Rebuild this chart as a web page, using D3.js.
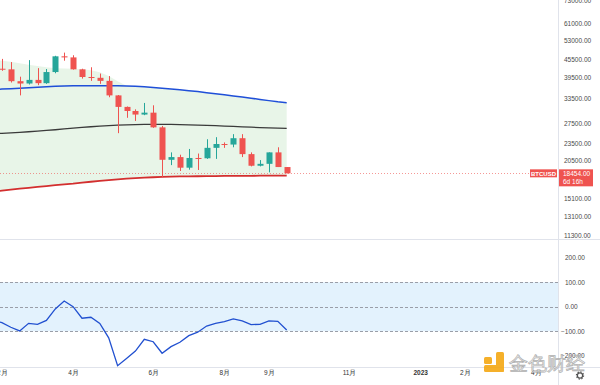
<!DOCTYPE html>
<html lang="zh">
<head>
<meta charset="UTF-8">
<title>BTCUSD 周线</title>
<script src="https://cdn.jsdelivr.net/npm/d3@7"></script>
<style>
  body { margin: 0; background: #fff; }
  text { font-family: "Liberation Sans", Arial, sans-serif; }
</style>
</head>
<body>
<div id="chart"></div>
<script>
// weekly bars, first one is the week of 2022-01-31 (just off the left edge)
const firstWeek = "2022-01-31";

const open  = [37900, 42400, 42200, 38400, 37700, 38800, 37800, 41300, 46800, 46400, 42200, 39700, 39450, 38500, 34300, 31300, 30300, 29450, 29900, 26600, 20550, 21000, 19300, 20850, 20800, 22600, 23300, 23200, 24400, 21500, 19600, 19900, 21800, 19400];
const high  = [44500, 45850, 44700, 39800, 45400, 42600, 42300, 47000, 48200, 47200, 42400, 42900, 40800, 40000, 34400, 31400, 30700, 32300, 31700, 26900, 21800, 21400, 22400, 21600, 24200, 24600, 23600, 25200, 25200, 21800, 20500, 21800, 22700, 19400];
const low   = [36300, 41700, 38000, 34300, 37400, 37200, 37600, 40900, 45200, 42100, 39200, 38500, 37600, 33800, 25400, 28700, 28000, 29300, 26500, 17900, 19700, 18800, 19000, 18950, 20700, 20700, 22600, 22700, 21000, 19500, 19500, 18600, 19400, 18454];
const close = [42400, 42200, 38400, 37700, 38800, 37800, 41300, 46800, 46400, 42200, 39700, 39450, 38500, 34300, 31300, 30300, 29450, 29900, 26600, 20550, 21000, 19300, 20850, 20800, 22600, 23300, 23200, 24400, 21500, 19600, 19900, 21800, 19400, 18454];

// moving averages drawn on the price pane
const maBlue  = [35900, 36080, 36170, 36290, 36430, 36580, 36720, 36870, 36950, 37000, 37040, 37040, 37040, 37040, 37000, 36950, 36870, 36720, 36520, 36320, 36080, 35860, 35600, 35370, 35060, 34760, 34460, 34150, 33860, 33540, 33220, 32900, 32590, 32360];
const maBlack = [25220, 25370, 25470, 25570, 25690, 25810, 25960, 26100, 26270, 26440, 26590, 26730, 26860, 26970, 27060, 27120, 27180, 27230, 27250, 27250, 27230, 27180, 27140, 27080, 27010, 26950, 26880, 26800, 26710, 26630, 26540, 26480, 26420, 26380];
const maRed   = [15960, 16090, 16210, 16330, 16440, 16560, 16670, 16790, 16910, 17010, 17140, 17260, 17370, 17480, 17580, 17680, 17760, 17830, 17890, 17930, 17980, 18000, 18020, 18030, 18050, 18060, 18080, 18080, 18090, 18090, 18110, 18110, 18110, 18120];
// upper edge of the green shaded band
const bandTop = [45500, 45200, 44800, 44300, 43800, 43300, 42900, 42600, 42500, 42400, 42200, 41900, 41200, 40000, 38400, 37000, 36870, 36720, 36520, 36320, 36080, 35860, 35600, 35370, 35060, 34760, 34460, 34150, 33860, 33540, 33220, 32900, 32590, 32360];

// oscillator in the lower pane
const cci = [-55, -65, -84, -99, -68, -72, -56, -9, 23, 0, -47, -43, -68, -127, -241, -211, -181, -133, -143, -190, -163, -145, -118, -104, -79, -68, -61, -50, -58, -73, -72, -58, -60, -95];

const priceTicks = [73000, 61000, 53000, 45500, 39500, 33500, 27500, 23500, 20500, 15100, 13100, 11300];
const cciTicks = [200, 100, 0, -100, -200];
const timeLabels = [
  ["2022-02-07", "2月"], ["2022-04-04", "4月"], ["2022-06-06", "6月"],
  ["2022-08-01", "8月"], ["2022-09-05", "9月"], ["2022-11-07", "11月"],
  ["2023-01-02", "2023"], ["2023-02-06", "2月"], ["2023-04-03", "4月"]
];
const lastPrice = 18454;
const symbol = "BTCUSD";
const countdown = "6d 16h";

const W = 600, H = 385;
const plotW = 558;
const green = "#26a69a", red = "#ef5350";

const parse = d3.utcParse("%Y-%m-%d");
const dates = close.map((d, i) => d3.utcMonday.offset(parse(firstWeek), i));
const bars = dates.map((d, i) => ({date: d, o: open[i], h: high[i], l: low[i], c: close[i]}));

const svg = d3.select("#chart").append("svg")
  .attr("width", W).attr("height", H)
  .style("display", "block");

svg.append("rect").attr("width", W).attr("height", H).attr("fill", "#fff");

const x = d3.scaleUtc()
  .domain([parse("2022-02-07"), parse("2023-04-03")])
  .range([1.9, 535.9]);

const y = d3.scaleLog().domain([11300, 61000]).range([235, 23]);
const yc = d3.scaleLinear().domain([-200, 200]).range([355.7, 257.7]);

svg.append("clipPath").attr("id", "clipTop").append("rect")
  .attr("width", plotW).attr("height", 239);
svg.append("clipPath").attr("id", "clipBot").append("rect")
  .attr("y", 240).attr("width", plotW).attr("height", 127);

const pricePane = svg.append("g").attr("clip-path", "url(#clipTop)");

// green band
pricePane.append("path")
  .datum(dates.map((d, i) => [d, bandTop[i], maRed[i]]))
  .attr("fill", "rgba(76,175,80,0.13)")
  .attr("d", d3.area().x(d => x(d[0])).y0(d => y(d[2])).y1(d => y(d[1])));

// current price line
pricePane.append("line")
  .attr("x1", 0).attr("x2", plotW)
  .attr("y1", Math.round(y(lastPrice)) + 0.5).attr("y2", Math.round(y(lastPrice)) + 0.5)
  .attr("stroke", red).attr("stroke-opacity", 0.6)
  .attr("stroke-dasharray", "1,2");

const lineFn = d3.line().x(d => x(d[0])).y(d => y(d[1]));
[[maBlue, "#1f4fd8", 1.5], [maBlack, "#3a3a3a", 1.3], [maRed, "#d32f2f", 1.8]].forEach(([arr, col, w]) => {
  pricePane.append("path")
    .datum(dates.map((d, i) => [d, arr[i]]))
    .attr("fill", "none").attr("stroke", col).attr("stroke-width", w)
    .attr("d", lineFn);
});

// candles
const candle = pricePane.selectAll("g.candle").data(bars).enter().append("g").attr("class", "candle");
candle.append("line")
  .attr("x1", d => Math.round(x(d.date)) + 0.5).attr("x2", d => Math.round(x(d.date)) + 0.5)
  .attr("y1", d => y(d.h)).attr("y2", d => y(d.l))
  .attr("stroke", d => d.c >= d.o ? green : red);
candle.append("rect")
  .attr("x", d => Math.round(x(d.date)) - 2.5)
  .attr("width", 6)
  .attr("y", d => y(Math.max(d.o, d.c)))
  .attr("height", d => Math.max(1, Math.abs(y(d.o) - y(d.c))))
  .attr("fill", d => d.c >= d.o ? green : red);

// lower pane
const oscPane = svg.append("g").attr("clip-path", "url(#clipBot)");
oscPane.append("rect")
  .attr("x", 0).attr("width", plotW)
  .attr("y", yc(100)).attr("height", yc(-100) - yc(100))
  .attr("fill", "#e3f2fd");
[100, 0, -100].forEach(v => {
  oscPane.append("line")
    .attr("x1", 0).attr("x2", plotW)
    .attr("y1", Math.round(yc(v)) + 0.5).attr("y2", Math.round(yc(v)) + 0.5)
    .attr("stroke", "#9a9ea8").attr("stroke-dasharray", "3,2");
});
oscPane.append("path")
  .datum(dates.map((d, i) => [d, cci[i]]))
  .attr("fill", "none").attr("stroke", "#2150d0").attr("stroke-width", 1.3)
  .attr("d", d3.line().x(d => x(d[0])).y(d => yc(d[1])));

// separators
svg.append("line").attr("x1", 0).attr("x2", W).attr("y1", 239.5).attr("y2", 239.5).attr("stroke", "#e0e3eb");
svg.append("line").attr("x1", 0).attr("x2", W).attr("y1", 367.5).attr("y2", 367.5).attr("stroke", "#e0e3eb");
svg.append("line").attr("x1", plotW + 0.5).attr("x2", plotW + 0.5).attr("y1", 0).attr("y2", H).attr("stroke", "#e0e3eb");

// price axis
const pAxis = svg.append("g")
  .attr("transform", `translate(${plotW + 6},0)`)
  .call(d3.axisRight(y).tickValues(priceTicks).tickFormat(d3.format(".2f")).tickSize(0).tickPadding(0));
pAxis.select(".domain").remove();
pAxis.selectAll("text").attr("font-size", "6.5px").attr("fill", "#4a4a4a").attr("font-family", "Liberation Sans, Arial, sans-serif");

const cAxis = svg.append("g")
  .attr("transform", `translate(${plotW + 7},0)`)
  .call(d3.axisRight(yc).tickValues(cciTicks).tickFormat(d3.format(".2f")).tickSize(0).tickPadding(0));
cAxis.select(".domain").remove();
cAxis.selectAll("text").attr("font-size", "6.5px").attr("fill", "#4a4a4a").attr("font-family", "Liberation Sans, Arial, sans-serif")
  .attr("dx", d => d < 0 ? -4 : 0);

// time axis
const tAxis = svg.append("g")
  .attr("transform", "translate(0,370)")
  .call(d3.axisBottom(x).tickValues(timeLabels.map(d => parse(d[0])))
    .tickFormat((d, i) => timeLabels[i][1]).tickSize(0).tickPadding(0));
tAxis.select(".domain").remove();
tAxis.selectAll("text").attr("font-size", "6.5px").attr("fill", "#333").attr("font-family", "Liberation Sans, Arial, sans-serif")
  .attr("font-weight", (d, i) => timeLabels[i][1] === "2023" ? "bold" : "normal");

// last price labels
const ly = y(lastPrice);
svg.append("rect").attr("x", 530).attr("y", ly - 4).attr("width", 27).attr("height", 8).attr("fill", red);
svg.append("text").attr("x", 543.5).attr("y", ly + 2.3).attr("text-anchor", "middle")
  .attr("font-size", "6px").attr("font-weight", "bold").attr("fill", "#fff").text(symbol);
svg.append("rect").attr("x", 559).attr("y", ly - 4).attr("width", 34).attr("height", 17).attr("fill", red);
svg.append("text").attr("x", 563).attr("y", ly + 2.3)
  .attr("font-size", "6.5px").attr("fill", "#fff").text(d3.format(".2f")(lastPrice));
svg.append("text").attr("x", 563).attr("y", ly + 10.5)
  .attr("font-size", "6.5px").attr("fill", "#fff").text(countdown);

// settings gear
svg.append("circle").attr("cx", 580).attr("cy", 375.5).attr("r", 2.6)
  .attr("fill", "none").attr("stroke", "#555").attr("stroke-width", 1.2);
svg.append("circle").attr("cx", 580).attr("cy", 375.5).attr("r", 3.6)
  .attr("fill", "none").attr("stroke", "#555").attr("stroke-width", 1.2).attr("stroke-dasharray", "1.4,1.4");

// watermark
const wm = svg.append("g").attr("opacity", 0.9);
wm.append("rect").attr("x", 484).attr("y", 357).attr("width", 8).attr("height", 7).attr("rx", 1.5).attr("fill", "#f5a814");
wm.append("rect").attr("x", 496).attr("y", 352).attr("width", 8).attr("height", 20).attr("rx", 1.5).attr("fill", "#f5a814");
wm.append("rect").attr("x", 484).attr("y", 365).attr("width", 20).attr("height", 7).attr("rx", 1.5).attr("fill", "#f5a814");
wm.append("text").attr("x", 509).attr("y", 370).attr("font-size", "19px")
  .attr("font-family", "Noto Sans CJK SC, sans-serif")
  .attr("fill", "#f2f2f2").attr("stroke", "#a8a8a8").attr("stroke-width", 0.7)
  .text("金色财经");
</script>
</body>
</html>
